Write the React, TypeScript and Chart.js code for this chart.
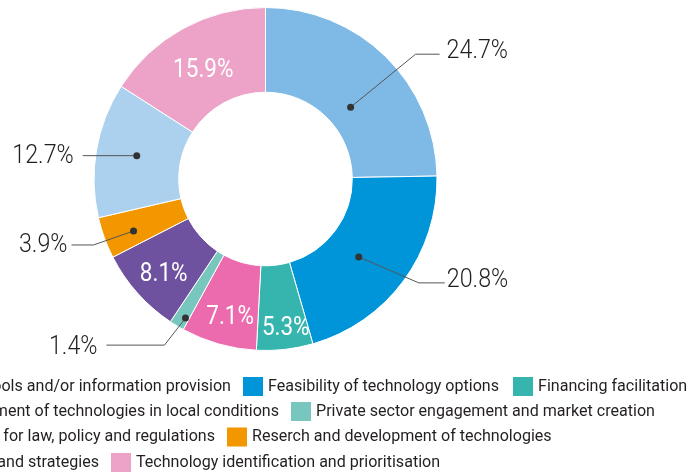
import React, { useEffect, useRef } from "react";
import { Chart, registerables } from "chart.js";

Chart.register(...registerables);

const categories = [
  "Decision-making tools and/or information provision",
  "Feasibility of technology options",
  "Financing facilitation",
  "Piloting and deployment of technologies in local conditions",
  "Private sector engagement and market creation",
  "Recommendations for law, policy and regulations",
  "Reserch and development of technologies",
  "Sectoral roadmaps and strategies",
  "Technology identification and prioritisation",
];
const shares = [24.7, 20.8, 5.3, 7.1, 1.4, 8.1, 3.9, 12.7, 15.9];
const colors = [
  "#7fbae6",
  "#0095d9",
  "#35b5ae",
  "#ec6bae",
  "#78c7bf",
  "#6e52a0",
  "#f39700",
  "#abd1ef",
  "#eda3c7",
];

// label styling (position within segment: angle fraction, radial fraction)
type InsideLabel = { kind: "in"; a: number; r: number };
type OutsideLabel = {
  kind: "out";
  a: number;
  r: number;
  elbow: [number, number];
  end: number;
  gap: number;
  base: number;
};
const labelStyle: (InsideLabel | OutsideLabel)[] = [
  { kind: "out", a: 0.56, r: 0.29, elbow: [65, -53], end: 89, gap: 7, base: 4 },
  { kind: "out", a: 0.545, r: 0.41, elbow: [60, 26], end: 86, gap: 2, base: 4 },
  { kind: "in", a: 0.43, r: 0.73 },
  { kind: "in", a: 0.45, r: 0.635 },
  { kind: "out", a: 0.25, r: 0.87, elbow: [-21, 27], end: -79, gap: 9, base: 9 },
  { kind: "in", a: 0.48, r: 0.6 },
  { kind: "out", a: 0.4, r: 0.65, elbow: [-40, 14], end: -62, gap: 4, base: 7 },
  { kind: "out", a: 0.51, r: 0.52, elbow: [0, 0], end: -54, gap: 9, base: 7 },
  { kind: "in", a: 0.49, r: 0.48 },
];

const legendRows = [
  { items: [0, 1, 2], anchor: 243, y: 386.5 },
  { items: [3, 4], anchor: 291, y: 411.5 },
  { items: [5, 6], anchor: 227, y: 437 },
  { items: [7, 8], anchor: 111, y: 462.5 },
];

function drawScaled(
  ctx: CanvasRenderingContext2D,
  text: string,
  x: number,
  y: number,
  align: "left" | "right" | "center",
  sx: number
) {
  const w = ctx.measureText(text).width * sx;
  const left = align === "left" ? x : align === "right" ? x - w : x - w / 2;
  ctx.save();
  ctx.translate(left, y);
  ctx.scale(sx, 1);
  ctx.textAlign = "left";
  ctx.textBaseline = "alphabetic";
  ctx.fillText(text, 0, 0);
  ctx.restore();
  return w;
}

const annotatePlugin = {
  id: "annotate",
  afterDatasetsDraw(chart: any) {
    const ctx: CanvasRenderingContext2D = chart.ctx;
    const meta = chart.getDatasetMeta(0);
    const vals = chart.data.datasets[0].data as number[];
    meta.data.forEach((arc: any, i: number) => {
      const p = arc.getProps(
        ["x", "y", "startAngle", "endAngle", "innerRadius", "outerRadius"],
        true
      );
      const st = labelStyle[i];
      const ang = p.startAngle + (p.endAngle - p.startAngle) * st.a;
      const rad = p.innerRadius + (p.outerRadius - p.innerRadius) * st.r;
      const px = p.x + Math.cos(ang) * rad;
      const py = p.y + Math.sin(ang) * rad;
      const text = vals[i].toFixed(1) + "%";
      ctx.save();
      if (st.kind === "in") {
        ctx.font = "400 25px Roboto";
        ctx.fillStyle = "#ffffff";
        drawScaled(ctx, text, px, py + 9, "center", 0.9);
      } else {
        ctx.font = "300 25px Roboto";
        const ex = px + st.elbow[0];
        const ey = py + st.elbow[1];
        const lx = px + st.end;
        ctx.strokeStyle = "#555555";
        ctx.lineWidth = 1;
        ctx.beginPath();
        ctx.moveTo(px, py);
        ctx.lineTo(ex, ey);
        ctx.lineTo(lx, ey);
        ctx.stroke();
        ctx.fillStyle = "#333333";
        ctx.beginPath();
        ctx.arc(px, py, 3.5, 0, Math.PI * 2);
        ctx.fill();
        ctx.fillStyle = "#231f20";
        if (st.end > 0) {
          drawScaled(ctx, text, lx + st.gap, ey + st.base, "left", 0.93);
        } else {
          drawScaled(ctx, text, lx - st.gap, ey + st.base, "right", 0.93);
        }
      }
      ctx.restore();
    });

    // legend
    const labels = chart.data.labels as string[];
    const bg = chart.data.datasets[0].backgroundColor as string[];
    ctx.save();
    ctx.font = "16px Roboto";
    const sx = 231 / ctx.measureText(labels[1]).width;
    legendRows.forEach((row) => {
      const first = row.items[0];
      ctx.fillStyle = "#231f20";
      drawScaled(ctx, labels[first], row.anchor - 12, row.y + 4, "right", sx);
      let x = row.anchor;
      row.items.slice(1).forEach((idx) => {
        ctx.fillStyle = bg[idx];
        ctx.fillRect(x, row.y - 9.5, 20, 19);
        ctx.fillStyle = "#231f20";
        const w = drawScaled(ctx, labels[idx], x + 25, row.y + 4, "left", sx);
        x = x + 25 + w + 14;
      });
    });
    ctx.restore();
  },
};

export default function App() {
  const ref = useRef<HTMLCanvasElement | null>(null);
  useEffect(() => {
    if (!ref.current) return;
    const chart = new Chart(ref.current, {
      type: "doughnut",
      data: {
        labels: categories,
        datasets: [
          {
            data: shares,
            backgroundColor: colors,
            borderColor: "#ffffff",
            borderWidth: 1,
          },
        ],
      },
      options: {
        responsive: false,
        animation: false,
        cutout: "50.6%",
        layout: { padding: { left: 93, right: 249, top: 7, bottom: 123 } },
        plugins: {
          legend: { display: false },
          tooltip: { enabled: false },
        },
      },
      plugins: [annotatePlugin],
    });
    return () => chart.destroy();
  }, []);
  return (
    <div
      style={{
        position: "absolute",
        left: 0,
        top: 0,
        width: 687,
        height: 474,
        background: "#ffffff",
        overflow: "hidden",
      }}
    >
      <canvas ref={ref} width={687} height={474} />
    </div>
  );
}
